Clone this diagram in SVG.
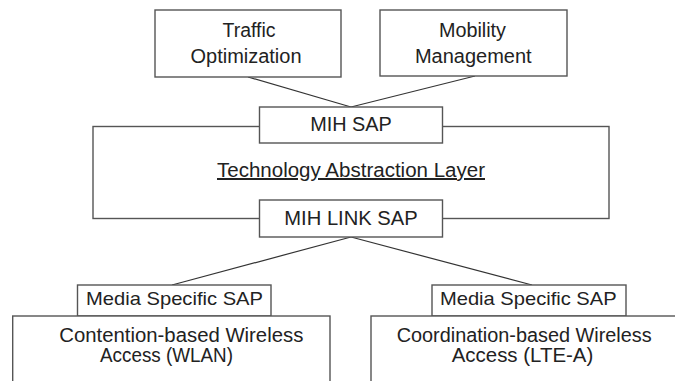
<svg xmlns="http://www.w3.org/2000/svg" width="675" height="381" viewBox="0 0 675 381">
<style>
.box{fill:#fff;stroke:#555;stroke-width:1.4}
.frame{fill:none;stroke:#555;stroke-width:1.4}
.conn{stroke:#333;stroke-width:1.2;fill:none}
text{font-family:"Liberation Sans",Arial,sans-serif;font-size:20px;fill:#222;text-anchor:middle}
text.sm{font-size:18.5px}
</style>
<rect width="675" height="381" fill="#fff"/>
<g id="connectors">
<line class="conn" x1="248" y1="77" x2="351" y2="107"/>
<line class="conn" x1="475" y1="76" x2="351" y2="107"/>
<line class="conn" x1="351" y1="237" x2="172" y2="285"/>
<line class="conn" x1="351" y1="237" x2="532" y2="285"/>
</g>
<g id="tal">
<rect class="frame" x="93" y="126.5" width="516" height="92"/>
<text x="351" y="177" textLength="268" lengthAdjust="spacingAndGlyphs" text-decoration="underline">Technology Abstraction Layer</text>
</g>
<g id="traffic">
<rect class="box" x="155" y="10" width="186" height="67"/>
<text x="249" y="37" textLength="53" lengthAdjust="spacingAndGlyphs">Traffic</text>
<text x="246" y="63" textLength="111" lengthAdjust="spacingAndGlyphs">Optimization</text>
</g>
<g id="mobility">
<rect class="box" x="380" y="10" width="187" height="66"/>
<text x="472.5" y="37" textLength="67" lengthAdjust="spacingAndGlyphs">Mobility</text>
<text x="473.3" y="63" textLength="116.7" lengthAdjust="spacingAndGlyphs">Management</text>
</g>
<g id="mih-sap">
<rect class="box" x="259.5" y="107" width="183" height="36"/>
<text x="351" y="131" textLength="81.7" lengthAdjust="spacingAndGlyphs">MIH SAP</text>
</g>
<g id="mih-link-sap">
<rect class="box" x="259.5" y="200" width="183" height="37"/>
<text x="351" y="224.5" textLength="133.4" lengthAdjust="spacingAndGlyphs">MIH LINK SAP</text>
</g>
<g id="ms-sap-left">
<rect class="box" x="77.5" y="285" width="193.5" height="31"/>
<text class="sm" x="174.5" y="305" textLength="177" lengthAdjust="spacingAndGlyphs">Media Specific SAP</text>
</g>
<g id="ms-sap-right">
<rect class="box" x="432" y="285" width="194" height="31"/>
<text class="sm" x="528.3" y="305" textLength="176.7" lengthAdjust="spacingAndGlyphs">Media Specific SAP</text>
</g>
<g id="wlan">
<rect class="box" x="12.7" y="316" width="317.3" height="80"/>
<text x="181.3" y="341.5" textLength="244" lengthAdjust="spacingAndGlyphs">Contention-based Wireless</text>
<text x="166.5" y="361.5" textLength="133" lengthAdjust="spacingAndGlyphs">Access (WLAN)</text>
</g>
<g id="lte">
<rect class="box" x="371" y="316" width="320" height="80"/>
<text x="524.2" y="341.5" textLength="255" lengthAdjust="spacingAndGlyphs">Coordination-based Wireless</text>
<text x="522.5" y="361.5" textLength="141.6" lengthAdjust="spacingAndGlyphs">Access (LTE-A)</text>
</g>
</svg>
